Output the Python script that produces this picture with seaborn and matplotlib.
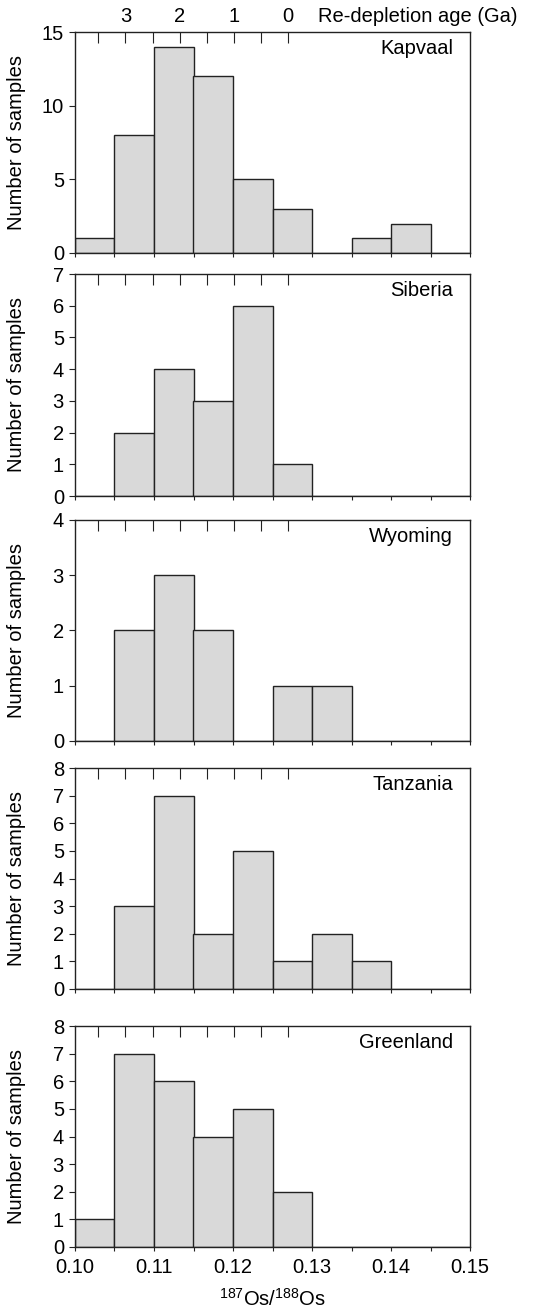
import numpy as np
import matplotlib
matplotlib.use("Agg")
import matplotlib.pyplot as plt
import seaborn as sns

# ---- data ----
bin_edges = [0.100, 0.105, 0.110, 0.115, 0.120, 0.125, 0.130, 0.135, 0.140, 0.145, 0.150]
regions = ["Kapvaal", "Siberia", "Wyoming", "Tanzania", "Greenland"]
kapvaal = [1, 8, 14, 12, 5, 3, 0, 1, 2, 0]
siberia = [0, 2, 4, 3, 6, 1, 0, 0, 0, 0]
wyoming = [0, 2, 3, 2, 0, 1, 1, 0, 0, 0]
tanzania = [0, 3, 7, 2, 5, 1, 2, 1, 0, 0]
greenland = [1, 7, 6, 4, 5, 2, 0, 0, 0, 0]
counts = [kapvaal, siberia, wyoming, tanzania, greenland]
y_max = [15, 7, 4, 8, 8]
y_step = [5, 1, 1, 1, 1]
age_major = [3, 2, 1, 0]
age_minor = [3.5, 2.5, 1.5, 0.5]
x_ticks = [0.10, 0.11, 0.12, 0.13, 0.14, 0.15]
x_ticklabels = ["0.10", "0.11", "0.12", "0.13", "0.14", "0.15"]

sns.set_style("ticks")
plt.rcParams["font.family"] = ["Liberation Sans", "DejaVu Sans"]
plt.rcParams["mathtext.fontset"] = "custom"
plt.rcParams["mathtext.rm"] = "Liberation Sans"
plt.rcParams["mathtext.it"] = "Liberation Sans"
plt.rcParams["text.color"] = "black"
plt.rcParams["axes.labelcolor"] = "black"
plt.rcParams["xtick.labelcolor"] = "black"
plt.rcParams["ytick.labelcolor"] = "black"

FS = 14.5
W, H = 534, 1311
fig = plt.figure(figsize=(W / 100, H / 100), dpi=100)

panel_px = [(32, 253), (274, 496), (520, 741), (768, 989), (1026, 1247)]
left_px, right_px = 75, 470

def os_to_age(x):
    return (0.127 - np.asarray(x)) / 0.00687

def age_to_os(a):
    return 0.127 - 0.00687 * np.asarray(a)

centers = [(bin_edges[i] + bin_edges[i + 1]) / 2 for i in range(len(bin_edges) - 1)]
edge_col = "#222222"

for i, (name, cnt) in enumerate(zip(regions, counts)):
    top, bot = panel_px[i]
    ax = fig.add_axes([left_px / W, 1 - bot / H, (right_px - left_px) / W, (bot - top) / H])
    sns.histplot(x=centers, weights=cnt, bins=bin_edges, ax=ax,
                 color="#d9d9d9", edgecolor=edge_col, linewidth=1.0, alpha=1)
    ax.set_xlim(0.10, 0.15)
    ax.set_ylim(0, y_max[i])
    ax.set_yticks(np.arange(0, y_max[i] + 1, y_step[i]))
    ax.set_xticks(x_ticks)
    ax.set_xticks(bin_edges, minor=True)
    ax.tick_params(axis="x", which="both", direction="out", length=3, width=0.8,
                   color=edge_col, top=False, labelsize=FS, pad=5, labelcolor="black")
    ax.tick_params(axis="y", direction="out", length=4, width=0.8, color=edge_col,
                   labelsize=FS, pad=4, labelcolor="black")
    if i == len(regions) - 1:
        ax.set_xticklabels(x_ticklabels)
        ax.set_xlabel("$\\mathregular{^{187}Os/^{188}Os}$", fontsize=FS, labelpad=8,
                      color="black")
    else:
        ax.set_xticklabels([])
        ax.set_xlabel("")
    ax.set_ylabel("Number of samples", fontsize=FS, color="black")
    ax.yaxis.set_label_coords(-0.125, 0.5)
    for s in ax.spines.values():
        s.set_visible(True)
        s.set_color(edge_col)
        s.set_linewidth(1.0)
    ax.text(0.957, 0.925, name, transform=ax.transAxes, ha="right", va="center",
            fontsize=FS, color="black")

    sec = ax.secondary_xaxis("top", functions=(os_to_age, age_to_os))
    sec.set_xticks(age_major)
    sec.set_xticks(age_minor, minor=True)
    sec.tick_params(axis="x", which="both", direction="in", length=8, width=0.8,
                    color=edge_col, pad=4, labelsize=FS, labelcolor="black")
    sec.spines["top"].set_visible(False)
    if i == 0:
        sec.set_xticklabels([str(a) for a in age_major])
        ax.text(318 / W, 1 - 17 / H, "Re-depletion age (Ga)", transform=fig.transFigure,
                ha="left", va="center", fontsize=FS, color="black")
    else:
        sec.set_xticklabels([])

fig.savefig("out.png", dpi=100)
